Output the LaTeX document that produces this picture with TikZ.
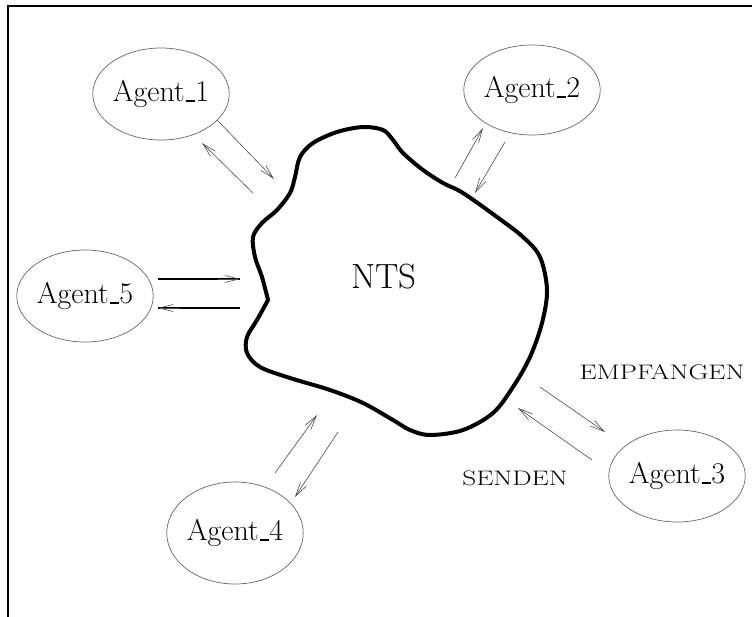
\documentclass[tikz,border=0pt]{standalone}
\usetikzlibrary{arrows.meta,shapes.geometric}
\newcommand\agus{\leavevmode\kern.06em\vbox{\hrule width.3em height .065em}}
\begin{document}
\begin{tikzpicture}[x=1pt,y=-1pt,
  agent/.style={ellipse,draw=black!60,line width=0.7pt,inner sep=0pt,
    font=\fontsize{30}{34}\selectfont},
  msg/.style={draw=black!70,line width=0.6pt,-{Straight Barb[length=14pt,width=7pt,line width=0.6pt]}},
  lbl/.style={font=\fontsize{21}{24}\selectfont,text depth=0pt,inner sep=0pt},
  cloud/.style={line width=4pt,line join=round,line cap=round}]
\useasboundingbox (0,0) rectangle (752,616);
% frame (top and left edges)
\draw[line width=2.6pt] (8,640) -- (8,6) -- (770,6);
% NTS cloud
\draw[cloud] plot[smooth,tension=0.55] coordinates {
 (268,300) (262,277) (255,257) (253,237) (262,223) (277,210) (290,193)
 (295,177) (300,157) (313,143) (337,132) (363,127) (383,130) (393,140)
 (403,153) (423,170) (443,183) (463,193) (497,217) (523,237) (540,257)
 (547,290) (542,323) (530,357) (513,387) (493,413) (463,430) (430,435)
 (410,430) (393,420) (363,403) (330,390) (290,378) (260,367) (247,353)
 (247,337) (257,320) (268,300)};
\node[font=\fontsize{35}{40}\selectfont,text depth=0pt,inner sep=0pt] (nts) at (384,276) {NTS};
% agents
\node[agent,minimum width=127pt,minimum height=92pt] (a1) at (161,94) {Agent\agus1};
\node[agent,minimum width=126pt,minimum height=90pt] (a2) at (532,90) {Agent\agus2};
\node[agent,minimum width=136pt,minimum height=92pt] (a3) at (677,476) {Agent\agus3};
\node[agent,minimum width=125pt,minimum height=102pt] (a4) at (235,533) {Agent\agus4};
\node[agent,minimum width=125pt,minimum height=92pt] (a5) at (85,296) {Agent\agus5};
% labels
\node[lbl] (emp) at (662,372) {\scalebox{1.3}[1]{EMPFANGEN}};
\node[lbl] (sen) at (515,478) {\scalebox{1.3}[1]{SENDEN}};
% arrow end points
\coordinate (a1o) at (217,120); \coordinate (a1i) at (274,179);
\coordinate (a1s) at (253,193); \coordinate (a1e) at (202,143);
\coordinate (a2s) at (455,178); \coordinate (a2e) at (483,128);
\coordinate (a2o) at (505,142); \coordinate (a2i) at (475,193);
\coordinate (a3s) at (540,387); \coordinate (a3e) at (605,432);
\coordinate (a3o) at (592,460); \coordinate (a3i) at (518,408);
\coordinate (a4s) at (275,473); \coordinate (a4e) at (317,415);
\coordinate (a4o) at (338,432); \coordinate (a4i) at (295,497);
\coordinate (a5s) at (158,279); \coordinate (a5e) at (240,279);
\coordinate (a5o) at (240,308); \coordinate (a5i) at (158,308);
% connectors
\draw[msg] (a1o) -- (a1i);
\draw[msg] (a1s) -- (a1e);
\draw[msg] (a2s) -- (a2e);
\draw[msg] (a2o) -- (a2i);
\draw[msg] (a3s) -- (a3e);
\draw[msg] (a3o) -- (a3i);
\draw[msg] (a4s) -- (a4e);
\draw[msg] (a4o) -- (a4i);
\draw[line width=2.2pt] (a5s) -- (a5e);
\draw[msg,shorten <=60pt] (a5s) -- (a5e);
\draw[line width=2.2pt] (a5o) -- (a5i);
\draw[msg,shorten <=60pt] (a5o) -- (a5i);
\end{tikzpicture}
\end{document}
